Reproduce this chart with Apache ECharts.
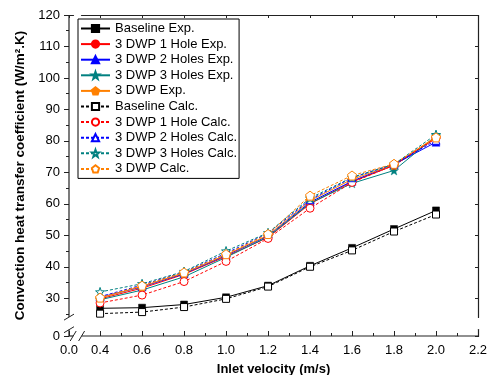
<!DOCTYPE html>
<html>
<head>
<meta charset="utf-8">
<script src="https://cdn.jsdelivr.net/npm/echarts@6/dist/echarts.min.js"></script>
<style>
  html, body { margin: 0; padding: 0; background: #fff; }
  #chart { width: 493px; height: 375px; }
</style>
</head>
<body>
<div id="chart"></div>
<script>
// Inlet velocities (m/s)
const velocities = [0.4, 0.6, 0.8, 1.0, 1.2, 1.4, 1.6, 1.8, 2.0];

// Convection heat transfer coefficient (W/m².K), measured
const baselineExp   = [26.8, 27.0, 28.0, 30.3, 34.0, 40.3, 46.0, 52.0, 57.9];
const hole1Exp      = [29.8, 33.2, 37.6, 43.3, 49.3, 60.0, 67.0, 72.2, 80.8];
const holes2Exp     = [30.3, 33.6, 37.8, 43.6, 49.8, 60.5, 67.2, 72.5, 79.6];
const holes3Exp     = [29.5, 32.6, 36.8, 43.0, 49.5, 60.2, 66.5, 70.6, 81.6];
const dwpExp        = [30.1, 33.8, 38.0, 43.8, 50.0, 61.0, 67.8, 72.4, 81.3];

// Calculated
const baselineCalc  = [25.1, 25.6, 27.2, 29.8, 33.7, 40.0, 45.2, 51.2, 56.6];
const hole1Calc     = [28.5, 31.0, 35.3, 41.7, 49.0, 58.6, 66.8, 72.3, 81.0];
const holes2Calc    = [30.5, 34.2, 38.3, 44.3, 50.6, 61.3, 68.3, 72.6, 80.2];
const holes3Calc    = [32.0, 34.6, 38.5, 45.0, 50.8, 61.8, 68.4, 72.6, 82.0];
const dwpCalc       = [30.2, 34.0, 38.2, 44.0, 50.4, 62.6, 69.0, 72.7, 81.1];

// Axis tick values (major ticks are labelled, minor ticks are not)
const xTickLabels = [0.0, 0.4, 0.6, 0.8, 1.0, 1.2, 1.4, 1.6, 1.8, 2.0, 2.2];
const xMinorTicks = [0.5, 0.7, 0.9, 1.1, 1.3, 1.5, 1.7, 1.9, 2.1];
const yTickLabels = [0, 30, 40, 50, 60, 70, 80, 90, 100, 110, 120];
const yMinorTicks = [25, 35, 45, 55, 65, 75, 85, 95, 105, 115];

const seriesNames = [
  'Baseline Exp.', '3 DWP 1 Hole Exp.', '3 DWP 2 Holes Exp.', '3 DWP 3 Holes Exp.', '3 DWP Exp.',
  'Baseline Calc.', '3 DWP 1 Hole Calc.', '3 DWP 2 Holes Calc.', '3 DWP 3 Holes Calc.', '3 DWP Calc.'
];
const seriesValues = [
  baselineExp, hole1Exp, holes2Exp, holes3Exp, dwpExp,
  baselineCalc, hole1Calc, holes2Calc, holes3Calc, dwpCalc
];

const STAR = 'path://M0,-10L2.35,-3.24L9.51,-3.09L3.8,1.24L5.88,8.09L0,4L-5.88,8.09L-3.8,1.24L-9.51,-3.09L-2.35,-3.24Z';
const PENTAGON = 'path://M0,-10L9.51,-3.09L5.88,8.09L-5.88,8.09L-9.51,-3.09Z';
const colors  = ['#000000', '#ff0000', '#0000ff', '#008080', '#ff8000'];
const symbols = ['rect', 'circle', 'triangle', STAR, PENTAGON];
const sizes   = [7, 8, 8, 9, 9];

const FONT = '"Liberation Sans", Arial, sans-serif';
const AXIS_COLOR = '#222';

const series = seriesValues.map((vals, i) => {
  const k = i % 5;
  const calc = i >= 5;
  return {
    name: seriesNames[i],
    type: 'line',
    xAxisIndex: 0, yAxisIndex: 0,
    data: velocities.map((v, j) => [v, vals[j]]),
    symbol: symbols[k],
    symbolSize: sizes[k],
    lineStyle: { color: colors[k], width: 1, type: calc ? [3, 2] : 'solid' },
    itemStyle: calc
      ? { color: '#ffffff', borderColor: colors[k], borderWidth: 1 }
      : { color: colors[k], borderColor: colors[k], borderWidth: 0.5 },
    emphasis: { disabled: true },
    animation: false
  };
});

const xBreaks = [{ start: 0.02, end: 0.312, gap: 0.04 }];
const yBreaks = [{ start: 2, end: 24, gap: 4 }];

function line(show) {
  return { show: show, onZero: false, lineStyle: { color: AXIS_COLOR, width: 1.2 } };
}
function xAxisDef(position, opts) {
  return Object.assign({
    type: 'value', min: 0, max: 2.2, position: position,
    breaks: xBreaks,
    breakArea: { show: false },
    splitLine: { show: false },
    axisLabel: { show: false },
    axisTick: { show: false },
    axisLine: line(false)
  }, opts);
}
function yAxisDef(position, opts) {
  return Object.assign({
    type: 'value', min: 0, max: 120, position: position,
    breaks: yBreaks,
    breakArea: { show: false },
    splitLine: { show: false },
    axisLabel: { show: false },
    axisTick: { show: false },
    axisLine: line(false)
  }, opts);
}

const GRID = { left: 69, right: 15, top: 15, bottom: 39 };

const option = {
  animation: false,
  grid: Object.assign({ containLabel: false, outerBoundsMode: 'none' }, GRID),
  legend: {
    orient: 'vertical',
    left: 78, top: 19,
    padding: [3, 2, 3, 2],
    itemGap: 2.6,
    itemWidth: 29, itemHeight: 9,
    borderColor: '#000', borderWidth: 1,
    textStyle: { color: '#000', fontSize: 13, fontFamily: FONT },
    data: seriesNames
  },
  xAxis: [
    xAxisDef('bottom', {
      axisTick: { show: true, inside: true, length: 5, customValues: xTickLabels, lineStyle: { color: AXIS_COLOR } },
      axisLabel: {
        show: true, color: '#000', fontSize: 13, fontFamily: FONT, margin: 8,
        customValues: xTickLabels, hideOverlap: false,
        formatter: v => v.toFixed(1)
      },
      name: 'Inlet velocity (m/s)',
      nameLocation: 'middle', nameGap: 27,
      nameTextStyle: { color: '#000', fontSize: 13, fontWeight: 'bold', fontFamily: FONT }
    }),
    xAxisDef('bottom', {
      axisTick: { show: true, inside: true, length: 3, customValues: xMinorTicks, lineStyle: { color: AXIS_COLOR } }
    }),
    xAxisDef('top', {
      axisLine: line(true),
      axisTick: { show: true, inside: true, length: 3, customValues: xTickLabels, lineStyle: { color: AXIS_COLOR } }
    })
  ],
  yAxis: [
    yAxisDef('left', {
      axisTick: { show: true, inside: false, length: 5, customValues: yTickLabels, lineStyle: { color: AXIS_COLOR } },
      axisLabel: {
        show: true, color: '#000', fontSize: 13, fontFamily: FONT, margin: 9,
        customValues: yTickLabels, hideOverlap: false,
        formatter: v => String(v)
      },
      name: 'Convection heat transfer coefficient (W/m².K)',
      nameLocation: 'middle', nameGap: 39,
      nameTextStyle: { color: '#000', fontSize: 13.5, fontWeight: 'bold', fontFamily: FONT }
    }),
    yAxisDef('left', {
      axisTick: { show: true, inside: false, length: 3, customValues: yMinorTicks, lineStyle: { color: AXIS_COLOR } }
    }),
    yAxisDef('right', {
      axisLine: line(true),
      axisTick: { show: true, inside: true, length: 3, customValues: yTickLabels, lineStyle: { color: AXIS_COLOR } }
    })
  ],
  series: series
};

const chart = echarts.init(document.getElementById('chart'), null, { renderer: 'canvas' });
chart.setOption(option);

// Bottom and left frame lines, each interrupted at its axis break by a pair of slashes.
function frameWithBreaks() {
  const els = [];
  const stroke = { stroke: AXIS_COLOR, lineWidth: 1.2 };
  const slash = { stroke: AXIS_COLOR, lineWidth: 1 };

  // plot-area edges from the grid layout
  const W = chart.getWidth(), H = chart.getHeight();
  const left = GRID.left, right = W - GRID.right;
  const top = GRID.top, bottom = H - GRID.bottom;

  // left frame line
  const y0 = chart.convertToPixel({ yAxisIndex: 0 }, yBreaks[0].start);
  const y1 = chart.convertToPixel({ yAxisIndex: 0 }, yBreaks[0].end);
  els.push({ type: 'line', z: 101, style: stroke, shape: { x1: left, y1: bottom, x2: left, y2: y0 } });
  els.push({ type: 'line', z: 101, style: stroke, shape: { x1: left, y1: y1, x2: left, y2: top } });
  [y0, y1].forEach(py => els.push({ type: 'line', z: 102, style: slash,
    shape: { x1: left - 5, y1: py + 3, x2: left + 5, y2: py - 3 } }));

  // bottom frame line
  const x0 = chart.convertToPixel({ xAxisIndex: 0 }, xBreaks[0].start);
  const x1 = chart.convertToPixel({ xAxisIndex: 0 }, xBreaks[0].end);
  els.push({ type: 'line', z: 101, style: stroke, shape: { x1: left, y1: bottom, x2: x0, y2: bottom } });
  els.push({ type: 'line', z: 101, style: stroke, shape: { x1: x1, y1: bottom, x2: right, y2: bottom } });
  [x0, x1].forEach(px => els.push({ type: 'line', z: 102, style: slash,
    shape: { x1: px - 3, y1: bottom + 5, x2: px + 3, y2: bottom - 5 } }));

  chart.setOption({ graphic: { elements: els } });
}
frameWithBreaks();
</script>
</body>
</html>
